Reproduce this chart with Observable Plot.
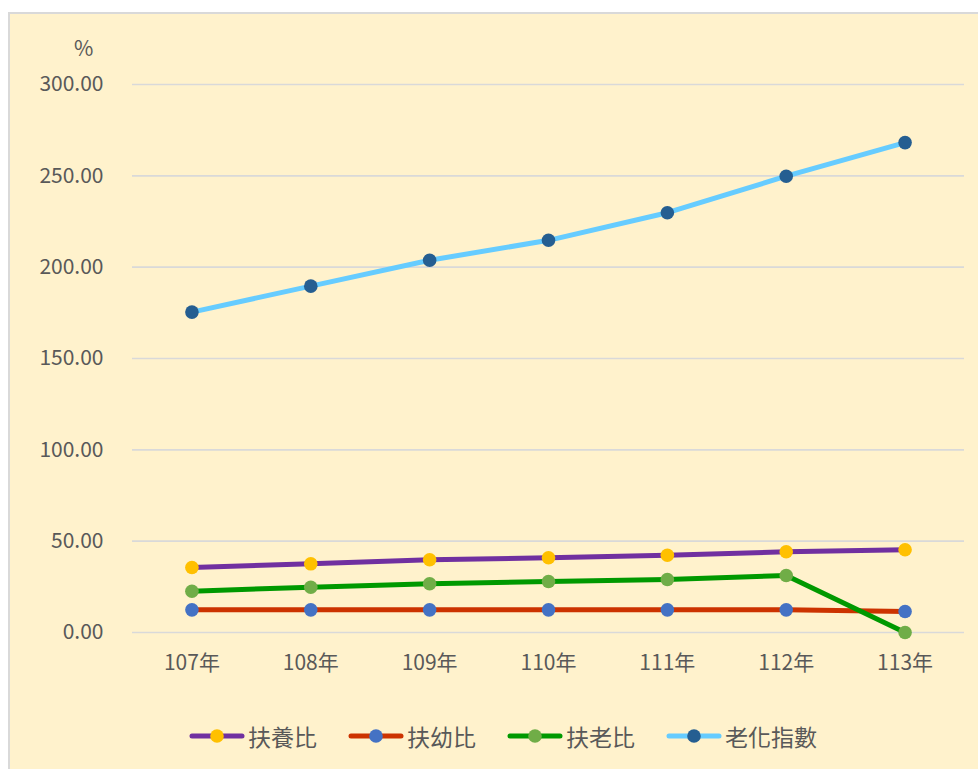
<!DOCTYPE html>
<html>
<head>
<meta charset="utf-8">
<script src="https://cdn.jsdelivr.net/npm/d3@7"></script>
<script src="https://cdn.jsdelivr.net/npm/@observablehq/plot@0.6"></script>
<style>
  html, body { margin: 0; padding: 0; background: #ffffff; width: 978px; height: 769px; overflow: hidden; }
  #frame { position: absolute; left: 8px; top: 12px; width: 1000px; height: 800px; background: #FFF2CC; border: 2px solid #D9D9D9; box-sizing: border-box; }
  #chart { position: absolute; left: 0; top: 0; }
  #unit { position: absolute; left: 74px; top: 32px; font: 21px "Noto Sans CJK TC", "Noto Sans", sans-serif; color: #595959; }
  #legend { position: absolute; left: 189px; top: 719px; display: flex; gap: 31px; font: 23px "Noto Sans CJK TC", sans-serif; color: #595959; }
  .item { display: flex; align-items: center; gap: 3px; }
  .item svg { display: block; }
</style>
</head>
<body>
<div id="frame"></div>
<div id="chart"></div>
<div id="unit">%</div>
<div id="legend"></div>
<script>
const years = ["107年", "108年", "109年", "110年", "111年", "112年", "113年"];
const seriesNames = ["扶養比", "扶幼比", "扶老比", "老化指數"];
const dependency = [35.6, 37.6, 39.8, 40.9, 42.3, 44.2, 45.3];
const youngDependency = [12.4, 12.4, 12.4, 12.4, 12.4, 12.4, 11.5];
const oldDependency = [22.6, 24.8, 26.7, 27.9, 29.0, 31.2, 0];
const agingIndex = [175.4, 189.6, 203.8, 214.7, 229.8, 249.8, 268.2];
const yTicks = [0, 50, 100, 150, 200, 250, 300];

const lineColors = ["#7030A0", "#CC3300", "#009900", "#66CCFF"];
const dotColors = ["#FFC000", "#4472C4", "#70AD47", "#255E91"];
const valuesList = [dependency, youngDependency, oldDependency, agingIndex];

const tables = valuesList.map(vals => years.map((yr, i) => ({year: yr, value: vals[i]})));

const marks = [
  Plot.ruleY(yTicks, {stroke: "#D9D9D9", strokeWidth: 1.6}),
  Plot.axisY(yTicks, {tickSize: 0, tickPadding: 29, tickFormat: d => d.toFixed(2), fontSize: 21, fill: "#595959", label: null}),
  Plot.axisX({tickSize: 0, tickPadding: 23, fontSize: 21, fill: "#595959", label: null})
];
tables.forEach((t, k) => {
  marks.push(Plot.line(t, {x: "year", y: "value", stroke: lineColors[k], strokeWidth: 5}));
  marks.push(Plot.dot(t, {x: "year", y: "value", r: 6.8, fill: dotColors[k], stroke: "none"}));
});

const chart = Plot.plot({
  width: 978,
  height: 692,
  marginLeft: 132,
  marginRight: 14,
  marginTop: 84,
  marginBottom: 60,
  style: {background: "transparent", fontFamily: "'Noto Sans CJK TC', 'Noto Sans', sans-serif", overflow: "visible"},
  x: {type: "point", domain: years, padding: 0.5, round: false},
  y: {domain: [0, 300]},
  marks
});
document.getElementById("chart").appendChild(chart);

const legend = document.getElementById("legend");
seriesNames.forEach((name, k) => {
  const item = document.createElement("div");
  item.className = "item";
  item.innerHTML = `<svg width="56" height="16"><line x1="3" y1="8" x2="53" y2="8" stroke="${lineColors[k]}" stroke-width="5" stroke-linecap="round"/><circle cx="28" cy="8" r="6.8" fill="${dotColors[k]}"/></svg><span>${name}</span>`;
  legend.appendChild(item);
});
</script>
</body>
</html>
